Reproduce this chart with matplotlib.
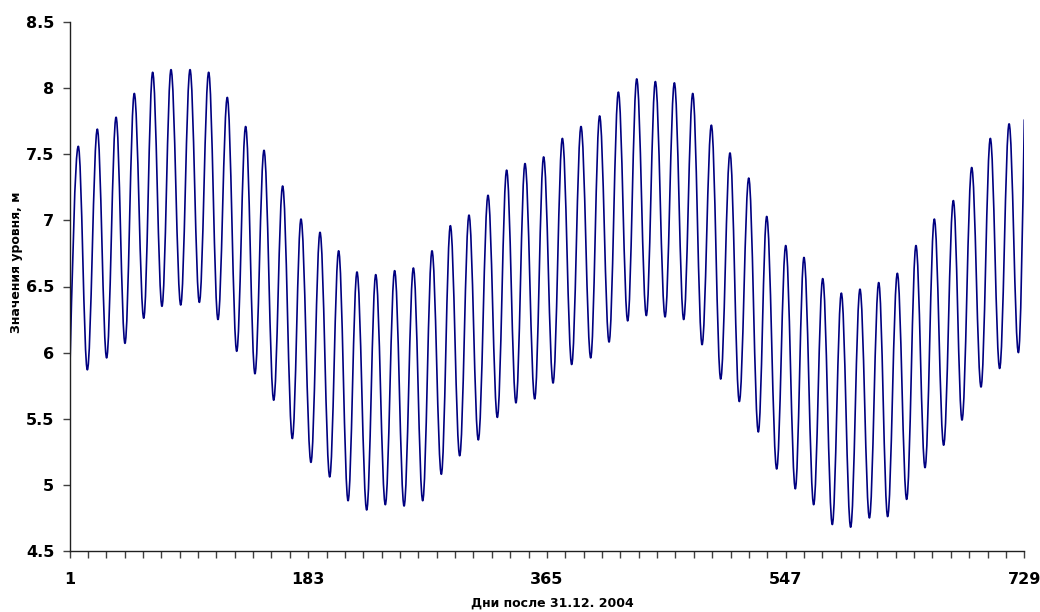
import matplotlib
matplotlib.use("Agg")
import matplotlib.pyplot as plt
from matplotlib.path import Path
from matplotlib.patches import PathPatch

# Days (after 31.12.2004) of the successive extrema
days = [1, 7.7, 14.6, 22.2, 29.3, 36.5, 43.3, 50.4, 57.6, 64.4, 71.5, 78.4, 85.8,
        92.9, 100.0, 107.1, 114.2, 121.3, 128.5, 135.3, 142.4, 149.3, 156.7, 163.5,
        170.9, 177.5, 185.1, 192.0, 199.4, 206.2, 213.4, 220.2, 227.6, 234.5, 241.8,
        248.9, 256.1, 263.2, 270.3, 277.4, 284.5, 291.4, 298.5, 305.6, 312.7, 320.1,
        327.2, 334.3, 341.4, 348.3, 355.7, 362.5, 369.7, 376.8, 383.9, 391.0, 398.4,
        405.2, 412.4, 419.5, 426.6, 433.5, 440.8, 447.7, 455.1, 462.2, 469.3, 476.2,
        483.3, 490.4, 497.5, 504.6, 511.7, 518.9, 526.2, 532.6, 540.2, 547.1, 554.4,
        561.0, 568.4, 575.3, 582.6, 589.5, 596.6, 603.7, 610.9, 618.0, 624.8, 632.2,
        639.3, 646.4, 653.3, 660.4, 667.5, 674.9, 681.5, 688.9, 696.0, 703.1, 710.2,
        717.4, 724.5, 729]

# Water level (m) at those extrema
levels = [5.75, 7.56, 5.87, 7.69, 5.96, 7.78, 6.07, 7.96, 6.26, 8.12, 6.35, 8.14, 6.36,
          8.14, 6.38, 8.12, 6.25, 7.93, 6.01, 7.71, 5.84, 7.53, 5.64, 7.26, 5.35, 7.01,
          5.17, 6.91, 5.06, 6.77, 4.88, 6.61, 4.81, 6.59, 4.85, 6.62, 4.84, 6.64, 4.88,
          6.77, 5.08, 6.96, 5.22, 7.04, 5.34, 7.19, 5.51, 7.38, 5.62, 7.43, 5.65, 7.48,
          5.77, 7.62, 5.91, 7.71, 5.96, 7.79, 6.08, 7.97, 6.24, 8.07, 6.28, 8.05, 6.27,
          8.04, 6.25, 7.96, 6.06, 7.72, 5.80, 7.51, 5.63, 7.32, 5.40, 7.03, 5.12, 6.81,
          4.97, 6.72, 4.85, 6.56, 4.70, 6.45, 4.68, 6.48, 4.75, 6.53, 4.76, 6.60, 4.89,
          6.81, 5.13, 7.01, 5.30, 7.15, 5.49, 7.40, 5.74, 7.62, 5.88, 7.73, 6.00, 7.76]

y_ticks = [4.5, 5, 5.5, 6, 6.5, 7, 7.5, 8, 8.5]
y_tick_labels = ["4.5", "5", "5.5", "6", "6.5", "7", "7.5", "8", "8.5"]
x_ticks = list(range(1, 730, 14))
x_labeled = [1, 183, 365, 547, 729]

y_title = "Значения уровня, м"
x_title = "Дни после 31.12. 2004"

W, H = 1040, 612
fig = plt.figure(figsize=(W / 100, H / 100), dpi=100)
ax = fig.add_axes([69.5 / W, 1 - 551 / H, (1024.3 - 69.5) / W, 529 / H])

# Smoothed line (like Excel's "smoothed line"): cubic segments between the
# read points, horizontal tangents at the turning points.
k = 0.364
verts = [(days[0], levels[0])]
codes = [Path.MOVETO]
n = len(days)
for i in range(n - 1):
    x0, y0 = days[i], levels[i]
    x1, y1 = days[i + 1], levels[i + 1]
    d = x1 - x0
    if i == 0:
        c1 = (x0 + d * 0.3, y0 + (y1 - y0) * 0.45)
    else:
        c1 = (x0 + k * d, y0)
    if i == n - 2:
        c2 = (x1 - d * 0.3, y1 - (y1 - y0) * 0.45)
    else:
        c2 = (x1 - k * d, y1)
    verts += [c1, c2, (x1, y1)]
    codes += [Path.CURVE4] * 3
ax.add_patch(PathPatch(Path(verts, codes), facecolor="none", edgecolor="#000080",
                       lw=1.2, joinstyle="round", capstyle="round"))

ax.set_xlim(1, 729)
ax.set_ylim(4.5, 8.5)

ax.set_yticks(y_ticks)
ax.set_yticklabels(y_tick_labels)
ax.set_xticks(x_ticks)
ax.set_xticklabels([str(t) if t in x_labeled else "" for t in x_ticks])

for s in ("top", "right"):
    ax.spines[s].set_visible(False)
for s in ("left", "bottom"):
    ax.spines[s].set_color("#202020")
    ax.spines[s].set_linewidth(1.0)

ax.tick_params(axis="y", direction="out", length=5, width=1, color="#404040",
               pad=6, labelsize=11.5)
ax.tick_params(axis="x", direction="out", length=5, width=1, color="#404040",
               pad=10, labelsize=11.5)
for lab in ax.get_xticklabels() + ax.get_yticklabels():
    lab.set_fontweight("bold")
    lab.set_family("DejaVu Sans")

fig.text(552 / W, 1 - 603 / H, x_title, ha="center", va="center",
         fontsize=9, fontweight="bold", family="DejaVu Sans")
fig.text(17 / W, 1 - 262 / H, y_title, ha="center", va="center", rotation=90,
         fontsize=9, fontweight="bold", family="DejaVu Sans")

fig.savefig("out.png", dpi=100)
